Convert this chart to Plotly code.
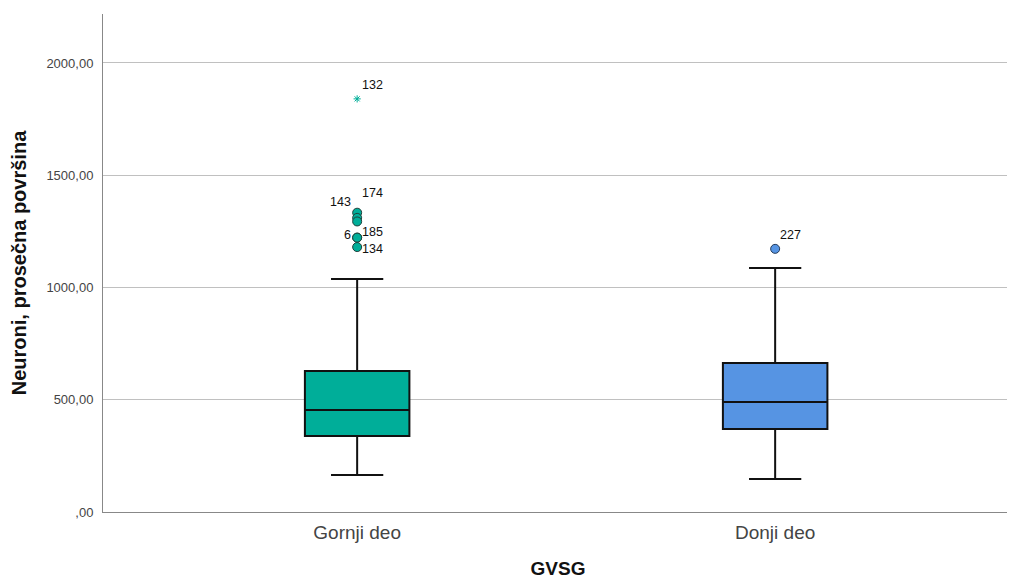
import plotly.graph_objects as go

categories = ["Gornji deo", "Donji deo"]
q1 = [339, 370]
median = [454, 490]
q3 = [628, 664]
lower_whisker = [165, 147]
upper_whisker = [1038, 1087]
box_colors = ["#00AE99", "#5694E3"]

# outliers: category, value, label, marker, label side
out_cat = ["Gornji deo", "Gornji deo", "Gornji deo", "Gornji deo", "Gornji deo", "Gornji deo", "Gornji deo", "Donji deo"]
out_val = [1840, 1333, 1310, 1294, 1222, 1222, 1180, 1172]
out_lbl = ["132", "174", "143", "", "6", "185", "134", "227"]
out_sym = ["asterisk-open", "circle", "circle", "circle", "circle", "circle", "circle", "circle"]
out_col = ["#00AE99"] * 7 + ["#5694E3"]
lbl_side = ["right", "right", "left", "", "left", "right", "right", "right"]
lbl_dy = [14, 20, 16, 0, 3, 6, -2, 14]

y_ticks = [0, 500, 1000, 1500, 2000]
y_ticktext = [",00", "500,00", "1000,00", "1500,00", "2000,00"]

fig = go.Figure()
for i, c in enumerate(categories):
    fig.add_trace(go.Box(
        x=[c], q1=[q1[i]], median=[median[i]], q3=[q3[i]],
        lowerfence=[lower_whisker[i]], upperfence=[upper_whisker[i]],
        fillcolor=box_colors[i], line=dict(color="#111111", width=2),
        whiskerwidth=0.5, width=0.25, boxpoints=False, showlegend=False,
        hoverinfo="skip",
    ))

for i in range(len(out_val)):
    if out_sym[i] == "asterisk-open":
        marker = dict(symbol="asterisk-open", size=6, line=dict(color="#2fc0ad", width=1), color=out_col[i])
    else:
        marker = dict(symbol="circle", size=9, color=out_col[i], line=dict(color="#1f3f3a" if i < 7 else "#233a5a", width=1))
    fig.add_trace(go.Scatter(x=[out_cat[i]], y=[out_val[i]], mode="markers", marker=marker,
                             showlegend=False, hoverinfo="skip"))
    if out_lbl[i]:
        fig.add_annotation(x=out_cat[i], y=out_val[i], text=out_lbl[i], showarrow=False,
                           xanchor="left" if lbl_side[i] == "right" else "right",
                           xshift=3 if lbl_side[i] == "right" else -4,
                           yshift=lbl_dy[i],
                           font=dict(family="Liberation Sans, Arial", size=12.5, color="#111111"))

fig.update_layout(
    width=1007, height=571,
    margin=dict(l=95, r=2, t=6, b=67),
    plot_bgcolor="white", paper_bgcolor="white",
    font=dict(family="Liberation Sans, Arial", color="#333333"),
    xaxis=dict(
        type="category", categoryorder="array", categoryarray=categories,
        showline=True, linecolor="#888888", linewidth=1, showgrid=False,
        ticks="", tickfont=dict(size=19, color="#444444"),
        ticklabelstandoff=3,
        title=dict(text="<b>GVSG</b>", font=dict(size=19, color="#111111"), standoff=22),
        range=[-0.608, 1.569],
    ),
    yaxis=dict(
        range=[0, 2218], tickvals=y_ticks, ticktext=y_ticktext,
        showline=True, linecolor="#888888", linewidth=1,
        showgrid=True, gridcolor="#c0c0c0", gridwidth=1.4, zeroline=False,
        ticks="",
        ticklabelstandoff=6,
        tickfont=dict(size=13, color="#444444"),
        title=dict(text="<b>Neuroni, prosečna površina</b>", font=dict(size=20, color="#111111"), standoff=14),
    ),
)

fig.write_html("out.html")
